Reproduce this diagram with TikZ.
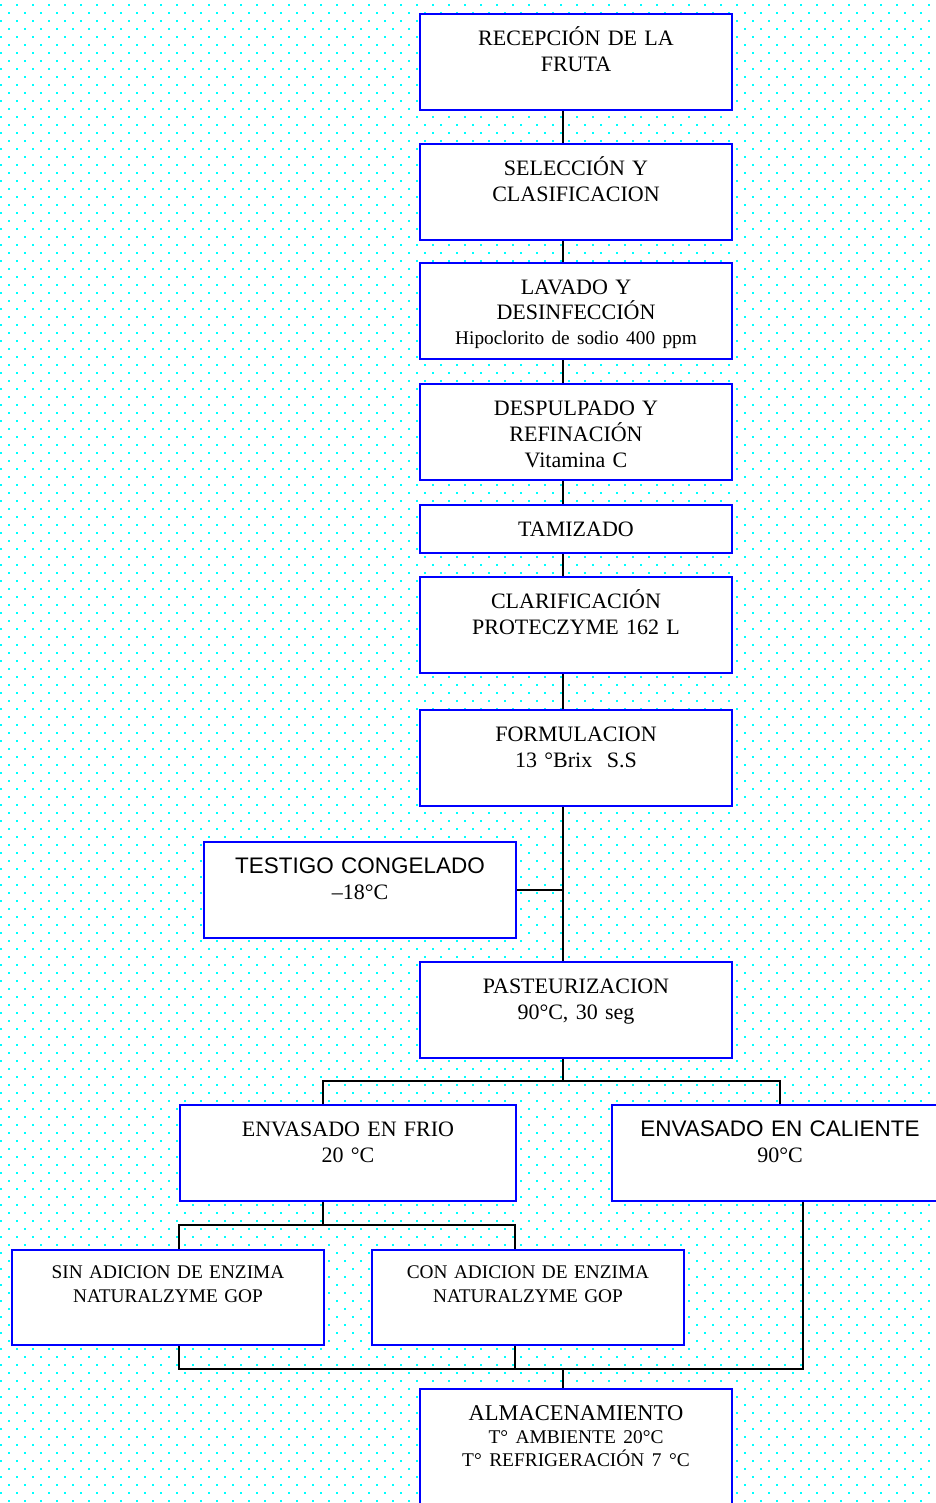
\documentclass[tikz,border=0pt]{standalone}
\usepackage{fontspec}
\setmainfont{Liberation Serif}
\newfontfamily\arialfont{Liberation Sans}
\usepackage{tikz}
\usetikzlibrary{calc}
\definecolor{azul}{RGB}{0,0,255}
\definecolor{celeste}{RGB}{0,255,255}
\newcommand{\grande}{\fontsize{22}{26}\selectfont}
\newcommand{\chica}{\fontsize{19.3}{24}\selectfont}
\newcommand{\menor}{\fontsize{19.4}{23}\selectfont}
\newcommand{\arial}{\fontsize{22.5}{26}\arialfont}
\tikzset{
  caja/.style={ draw=azul, fill=white, line width=2pt, inner sep=0pt, anchor=north west,
    text width=312pt, align=center, text height=31.5pt, text depth=64.5pt, font=\grande }
}
\tikzset{
  cajaB/.style={ font=\chica, text height=28pt, text depth=67pt }
}
\tikzset{
  linea/.style={ draw=black, line width=1.5pt }
}
\tikzset{
  puntos/.style={ draw=celeste, line width=2pt, dash pattern=on 2pt off 14pt }
}

\begin{document}
\begin{tikzpicture}[x=1pt, y=-1pt]
      \useasboundingbox (0,0) rectangle (936,1503);
      \clip (0,0) rectangle (936,1503);
      \fill[white] (0,0) rectangle (936,1503);
      % fondo punteado
      \foreach \f in {0,...,187}{
        \pgfmathsetmacro\fase{mod(\f,2)*8}
        \draw[puntos, dash phase=\fase pt] (0,5+8*\f) -- (936,5+8*\f);
      }

      \node[caja] (rec) at (419,13) {RECEPCIÓN DE LA\\FRUTA};
      \node[caja] (sel) at (419,143) {SELECCIÓN Y\\CLASIFICACION};
      \node[caja, font=\fontsize{22}{25}\selectfont] (lav) at (419,262) {LAVADO Y\\DESINFECCIÓN\\{\chica Hipoclorito de sodio 400 ppm}};
      \node[caja] (des) at (419,383) {DESPULPADO Y\\REFINACIÓN\\Vitamina C};
      \node[caja, text depth=16.5pt] (tam) at (419,504) {TAMIZADO};
      \node[caja] (cla) at (419,576) {CLARIFICACIÓN\\PROTECZYME 162 L};
      \node[caja] (form) at (419,709) {FORMULACION\\13 °Brix\ \ S.S};

      \node[caja] (tes) at (203,841) {{\arial TESTIGO CONGELADO}\\–18°C};
      \node[caja] (pas) at (419,961) {PASTEURIZACION\\90°C, 30 seg};

      \node[caja, text width=336pt] (fri) at (179,1104) {ENVASADO EN FRIO\\20 °C};
      \node[caja, text width=336pt] (cal) at (611,1104) {{\arial ENVASADO EN CALIENTE}\\90°C};

      \node[caja, cajaB] (sin) at (11,1249) {SIN ADICION DE ENZIMA\\NATURALZYME GOP};
      \node[caja, cajaB] (con) at (371,1249) {CON ADICION DE ENZIMA\\NATURALZYME GOP};

      \node[caja, text depth=100pt, font=\fontsize{22.5}{23}\selectfont] (alm) at (419,1388)
        {ALMACENAMIENTO\\{\menor T° AMBIENTE 20°C\\T° REFRIGERACIÓN 7 °C}};

      % ejes de las uniones
      \coordinate (eje) at (563,0);
      \coordinate (xf) at (323,0);
      \coordinate (xs) at (179,0);
      \coordinate (xo) at (515,0);
      \coordinate (xcb) at (803,0);
      \coordinate (div) at (563,1081);
      \coordinate (divB) at (323,1225);
      \coordinate (une) at (563,1369);

      \begin{scope}[linea]
        \foreach \a/\b in {rec/sel, sel/lav, lav/des, des/tam, tam/cla, cla/form, form/pas}
          \draw (\a.south -| eje) -- (\b.north -| eje);
        \draw (tes.east) -- (tes.east -| eje);

        \draw (pas.south -| eje) -- (div);
        \draw (fri.north -| xf) |- (div) -| (cal.north);

        \draw (fri.south -| xf) -- (divB);
        \draw (sin.north -| xs) |- (divB) -| (con.north -| xo);

        \draw (sin.south -| xs) |- (une) -| (cal.south -| xcb);
        \draw (con.south -| xo) -- (une -| xo);
        \draw (une) -- (alm.north -| eje);
      \end{scope}
    \end{tikzpicture}
\end{document}
